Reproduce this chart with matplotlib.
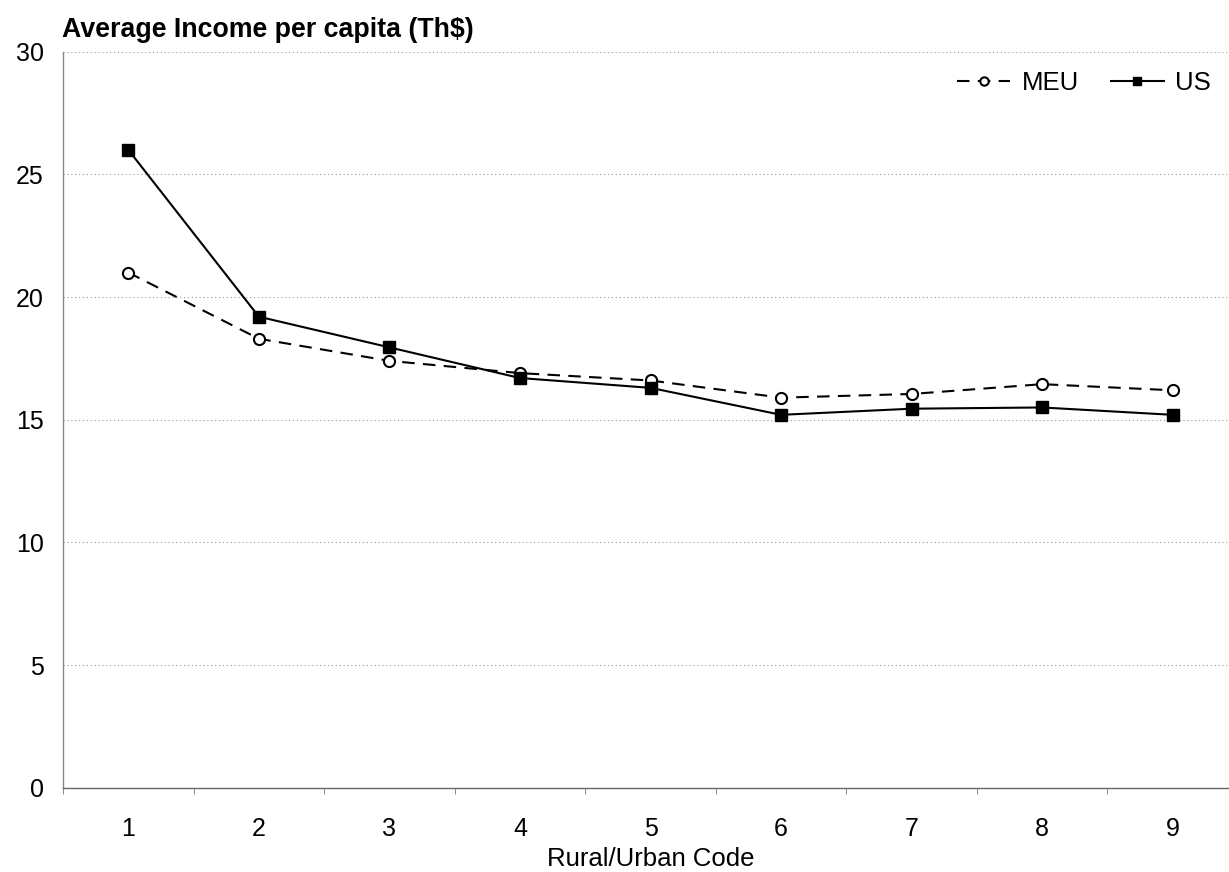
# Average income per capita by rural/urban code, MEU vs US

import numpy as np
import matplotlib.pyplot as plt

plt.rcParams['font.family'] = ['Liberation Sans', 'DejaVu Sans']

codes = [1, 2, 3, 4, 5, 6, 7, 8, 9]
meu_income = [21.0, 18.3, 17.4, 16.9, 16.6, 15.9, 16.05, 16.45, 16.2]  # Th$
us_income = [26.0, 19.2, 17.95, 16.7, 16.3, 15.2, 15.45, 15.5, 15.2]  # Th$
y_ticks = [0, 5, 10, 15, 20, 25, 30]

fig = plt.figure(figsize = (12.29, 8.72), dpi = 100)
ax = fig.add_axes([0.0513, 0.0966, 0.956, 0.8441])

ax.plot(codes, meu_income, '--o', color = 'k', lw = 1.5, markersize = 8,
        markerfacecolor = 'white', markeredgewidth = 1.5, dashes = (6, 4), label = 'MEU')
ax.plot(codes, us_income, '-s', color = 'k', lw = 1.5, markersize = 8, label = 'US')

ax.set_xlim(0.5, 9.5)
ax.set_ylim(0, 30)
ax.set_yticks(y_ticks)
ax.set_xticks(codes)
ax.set_xticks(np.arange(0.5, 9.6, 1), minor = True)
ax.tick_params(axis = 'x', which = 'major', length = 0, labelsize = 18, pad = 21)
ax.tick_params(axis = 'x', which = 'minor', length = 4, color = '#777777', direction = 'out')
ax.tick_params(axis = 'y', length = 0, labelsize = 18, pad = 14)

ax.yaxis.grid(True, color = '#999999', linestyle = (0, (1, 2.5)), lw = 0.8)
ax.set_axisbelow(True)
for side in ['top', 'right']:
    ax.spines[side].set_visible(False)
ax.spines['left'].set_color('#888888')
ax.spines['bottom'].set_color('#666666')
ax.spines['left'].set_linewidth(1)
ax.spines['bottom'].set_linewidth(1)

ax.set_xlabel('Rural/Urban Code', fontsize = 18.5, labelpad = 4.5)
fig.text(0.0505, 0.9656, 'Average Income per capita (Th$)', fontsize = 19.3, fontweight = 'bold',
         ha = 'left', va = 'center')

ax.legend(loc = 'center right', bbox_to_anchor = (0.977, 0.957), ncol = 2, frameon = False,
          fontsize = 18.5, handlelength = 2.05, columnspacing = 1.25, handletextpad = 0.45,
          borderaxespad = 0, borderpad = 0, markerscale = 0.75)

fig.savefig('out.png', dpi = 100)
